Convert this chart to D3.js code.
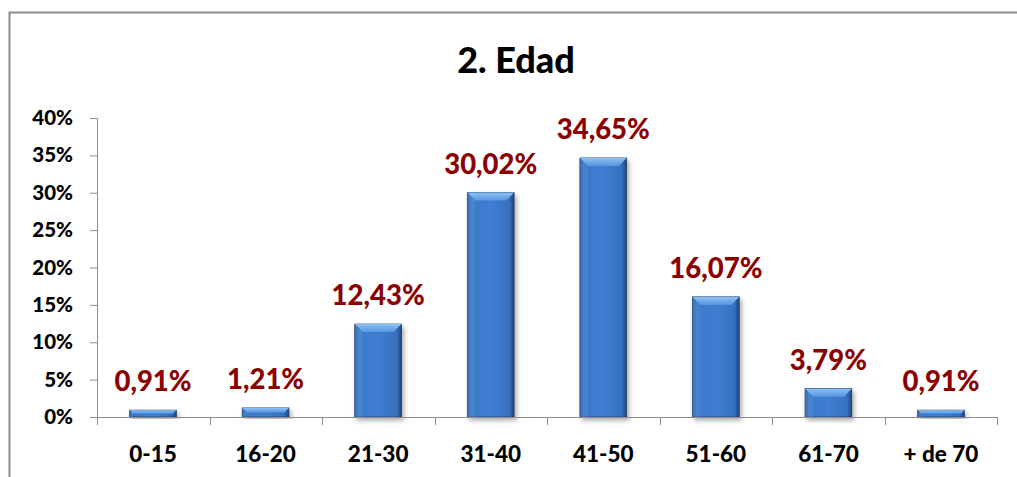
<!DOCTYPE html>
<html><head><meta charset="utf-8">
<script src="https://cdn.jsdelivr.net/npm/d3@7"></script>
<style>body{margin:0;background:#fff}svg{display:block}</style>
</head><body>
<script>
const categories = ["0-15","16-20","21-30","31-40","41-50","51-60","61-70","+ de 70"];
const values = [0.91,1.21,12.43,30.02,34.65,16.07,3.79,0.91];
const valueLabels = ["0,91%","1,21%","12,43%","30,02%","34,65%","16,07%","3,79%","0,91%"];
const yTicks = [0,5,10,15,20,25,30,35,40];
const title = "2. Edad";

(function(){
const W=1017,H=477;
const svg=d3.select("body").append("svg").attr("width",W).attr("height",H);
const font="Lato, 'Open Sans', sans-serif";
const fw=900;
svg.append("rect").attr("x",9.5).attr("y",12.5).attr("width",1040).attr("height",500)
  .attr("fill","#fff").attr("stroke","#8c8c8c").attr("stroke-width",2);

const pl=97,pr=997,pt=118,pb=417;
const x=d3.scaleBand().domain(categories).range([pl,pr]).paddingInner(0.585).paddingOuter(0.29);
const y=d3.scaleLinear().domain([0,40]).range([pb,pt]);

const defs=svg.append("defs");
const g=defs.append("linearGradient").attr("id","bar").attr("x1","0").attr("x2","1").attr("y1","0").attr("y2","0");
[[0,"#2a5592"],[0.08,"#3d78c8"],[0.5,"#3f7fd2"],[0.9,"#3670bd"],[1,"#1f4275"]].forEach(s=>g.append("stop").attr("offset",s[0]).attr("stop-color",s[1]));
const gt=defs.append("linearGradient").attr("id","bev").attr("x1","0").attr("x2","0").attr("y1","0").attr("y2","1");
[[0,"#8fc0f2"],[1,"#5596e0"]].forEach(s=>gt.append("stop").attr("offset",s[0]).attr("stop-color",s[1]));
const f=defs.append("filter").attr("id","sh").attr("x","-20%").attr("y","-10%").attr("width","150%").attr("height","130%");
f.append("feDropShadow").attr("dx",2).attr("dy",3).attr("stdDeviation",2.5).attr("flood-color","#000").attr("flood-opacity",0.35);

svg.append("text").attr("x",516).attr("y",73).attr("text-anchor","middle")
  .attr("font-family",font).attr("font-weight",fw).attr("font-size",36).attr("fill","#000").text(title);

const ya=svg.append("g").attr("transform",`translate(${pl},0)`)
  .call(d3.axisLeft(y).tickValues(yTicks).tickFormat(d=>d+"%").tickSize(7).tickPadding(17));
ya.select(".domain").attr("stroke","#8c8c8c").attr("d",`M-7,${pt+0.5}H0.5V${pb}`);
ya.selectAll(".tick line").attr("stroke","#8c8c8c");
ya.selectAll("text").attr("font-family",font).attr("font-weight",fw).attr("font-size",20.5).attr("fill","#000");

const bars=svg.append("g").selectAll("g").data(values).join("g");
bars.each(function(v,i){
  const gg=d3.select(this);
  const bx=x(categories[i]),bw=x.bandwidth(),by=y(v),bh=pb-y(v);
  gg.append("rect").attr("x",bx).attr("y",by).attr("width",bw).attr("height",bh)
    .attr("fill","url(#bar)").attr("stroke","#1f3f70").attr("stroke-width",0.8).attr("filter","url(#sh)");
  const bev=Math.min(8,bh/2);
  gg.append("path").attr("d",`M${bx},${by}H${bx+bw}L${bx+bw-bev},${by+bev}H${bx+bev}Z`).attr("fill","url(#bev)");
  gg.append("path").attr("d",`M${bx},${by}L${bx+bev},${by+bev}V${pb}H${bx}Z`).attr("fill","#5b94d8").attr("opacity",0.35);
});

const xa=svg.append("g").attr("transform",`translate(0,${pb})`)
  .call(d3.axisBottom(x).tickSize(0).tickPadding(29));
xa.select(".domain").attr("stroke","#8c8c8c").attr("d",`M${pl},0.5H${pr+0.5}`);
xa.selectAll("text").attr("font-family",font).attr("font-weight",fw).attr("font-size",22.5).attr("fill","#000");
const bounds=d3.range(categories.length+1).map(i=>pl+i*(pr-pl)/categories.length);
svg.append("g").selectAll("line").data(bounds).join("line")
  .attr("x1",d=>Math.round(d)+0.5).attr("x2",d=>Math.round(d)+0.5).attr("y1",pb).attr("y2",pb+8).attr("stroke","#8c8c8c");

svg.append("g").selectAll("text").data(values).join("text")
  .attr("x",(d,i)=>x(categories[i])+x.bandwidth()/2).attr("y",d=>y(d)-19)
  .attr("text-anchor","middle").attr("font-family",font).attr("font-weight",fw).attr("font-size",27.5)
  .attr("fill","#8b0000").text((d,i)=>valueLabels[i]);
})();
</script>
</body></html>
